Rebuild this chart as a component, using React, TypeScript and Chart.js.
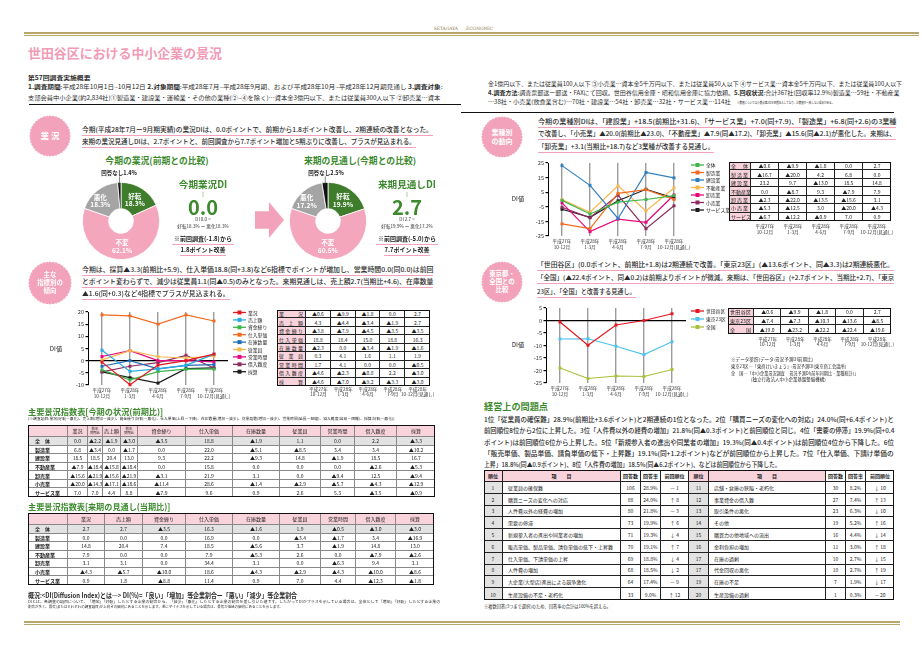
import React, { useEffect, useLayoutEffect, useRef, useState } from 'react';
import { Chart, registerables } from 'chart.js';
Chart.register(...registerables);

const FONT = '"Noto Sans CJK JP", "Noto Sans", sans-serif';
Chart.defaults.font.family = FONT;

// ---------------- data ----------------
const QUARTERS = [['平成27年', '10-12月'], ['平成28年', '1-3月'], ['平成28年', '4-6月'], ['平成28年', '7-9月'], ['平成28年', '10-12月(見通し)']];

const PIE_LABELS = ['好転', '不変', '悪化', '回答なし'];
const PIE_NOW = [18.3, 62.1, 18.3, 1.4];
const PIE_NEXT = [19.9, 60.5, 17.2, 2.5];
const PIE_COLORS = ['#3f7d2c', '#f4a6bc', '#a4a4a4', '#111111'];

const IND_NAMES = ['全体', '製造業', '建設業', '不動産業', '卸売業', '小売業', 'サービス業'];
const IND_COLORS = ['#3db54a', '#f26a21', '#2f7fc0', '#f8b74d', '#e6087f', '#8c2c5c', '#1c1c1c'];
const DI_ZENTAI = [-0.6, -9.9, -1.8, 0.0, 2.7];
const DI_SEIZO = [-16.7, -20.0, 4.2, 6.8, 0.0];
const DI_KENSETSU = [23.2, 9.7, -13.0, 18.5, 14.8];
const DI_FUDOSAN = [0.0, -8.7, 9.3, -7.9, 7.9];
const DI_OROSHI = [-2.3, -22.0, -13.5, -15.6, 3.1];
const DI_KOURI = [-5.3, -12.5, 3.0, -20.0, -4.3];
const DI_SERVICE = [-6.7, -12.2, -0.9, 7.0, 0.9];
const IND_SERIES = [DI_ZENTAI, DI_SEIZO, DI_KENSETSU, DI_FUDOSAN, DI_OROSHI, DI_KOURI, DI_SERVICE];

const IDX_NAMES = ['業況', '売上額', '資金繰り', '仕入単価', '在庫数量', '従業員', '営業時間', '借入難度', '採算'];
const IDX_COLORS = ['#e3171f', '#27abe2', '#3db54a', '#f26a21', '#1f6fb5', '#f8b74d', '#e6087f', '#8c2c5c', '#1c1c1c'];
const IX_GYOKYO = [-0.6, -9.9, -1.8, 0.0, 2.7];
const IX_URIAGE = [4.3, -4.4, -3.4, -1.9, 2.7];
const IX_SHIKIN = [-3.8, -7.9, -4.5, -3.5, -3.5];
const IX_SHIIRE = [18.8, 18.4, 15.0, 18.8, 16.3];
const IX_ZAIKO = [-2.3, 0.0, -3.4, -1.9, -1.6];
const IX_JUGYOIN = [0.3, 4.1, 1.6, 1.1, 1.9];
const IX_EIGYO = [1.7, 4.1, 0.0, 0.0, -0.5];
const IX_KARIIRE = [-4.6, -2.3, -0.8, 2.2, -3.0];
const IX_SAISAN = [-4.6, -7.0, -9.2, -3.3, -3.0];
const IDX_SERIES = [IX_GYOKYO, IX_URIAGE, IX_SHIKIN, IX_SHIIRE, IX_ZAIKO, IX_JUGYOIN, IX_EIGYO, IX_KARIIRE, IX_SAISAN];

const AREA_NAMES = ['世田谷区', '東京23区', '全国'];
const AREA_COLORS = ['#e3171f', '#4ec2ee', '#a9c03b'];
const AR_SETAGAYA = [-0.6, -9.9, -1.8, 0.0, 2.7];
const AR_TOKYO23 = [-7.4, -7.3, -10.3, -13.6, -8.5];
const AR_ZENKOKU = [-19.0, -23.2, -22.2, -22.4, -19.6];
const AREA_SERIES = [AR_SETAGAYA, AR_TOKYO23, AR_ZENKOKU];

const T1_HEAD = ['業況', '前年|同期比', '売上額', '前年|同期比', '資金繰り', '仕入単価', '在庫数量', '従業員', '営業時間', '借入難度', '採算'];
const T1_ZENTAI = [0.0, -2.2, -1.9, -3.0, -3.5, 18.8, -1.9, 1.1, 0.0, 2.2, -3.3];
const T1_SEIZO = [6.8, -3.4, 0.0, -1.7, 0.0, 22.0, -5.1, -8.5, 3.4, 3.4, -10.2];
const T1_KENSETSU = [18.5, 18.5, 20.4, 13.0, 9.3, 22.2, -9.3, 14.8, -1.9, 18.5, 16.7];
const T1_FUDOSAN = [-7.9, -18.4, -15.8, -18.4, 0.0, 15.8, 0.0, 0.0, 0.0, -2.6, -5.3];
const T1_OROSHI = [-15.6, -21.9, -15.6, -21.9, -3.1, 21.9, 3.1, 0.0, -9.4, 12.5, -9.4];
const T1_KOURI = [-20.0, -14.3, -17.1, -18.6, -11.4, 28.6, -1.4, -2.9, -5.7, -4.3, -12.9];
const T1_SERVICE = [7.0, 7.0, 4.4, 8.8, -7.9, 9.6, 0.9, 2.6, 5.3, -3.5, -0.9];
const T1_ROWS = [T1_ZENTAI, T1_SEIZO, T1_KENSETSU, T1_FUDOSAN, T1_OROSHI, T1_KOURI, T1_SERVICE];

const T2_HEAD = ['業況', '売上額', '資金繰り', '仕入単価', '在庫数量', '従業員', '営業時間', '借入難度', '採算'];
const T2_ZENTAI = [2.7, 2.7, -3.5, 16.3, -1.6, 1.9, -0.5, -3.0, -3.0];
const T2_SEIZO = [0.0, 0.0, 0.0, 16.9, 0.0, -3.4, -1.7, 3.4, -16.9];
const T2_KENSETSU = [14.8, 20.4, 7.4, 18.5, -5.6, 3.7, -1.9, 14.8, 13.0];
const T2_FUDOSAN = [7.9, 0.0, 0.0, 7.9, -5.3, 2.6, 0.0, -7.9, -2.6];
const T2_OROSHI = [3.1, 3.1, 0.0, 34.4, 3.1, 0.0, -6.3, 9.4, 3.1];
const T2_KOURI = [-4.3, -5.7, -10.0, 18.6, -4.3, -2.9, -4.3, -10.0, -8.6];
const T2_SERVICE = [0.9, 1.8, -8.8, 11.4, 0.9, 7.0, 4.4, -12.3, -1.8];
const T2_ROWS = [T2_ZENTAI, T2_SEIZO, T2_KENSETSU, T2_FUDOSAN, T2_OROSHI, T2_KOURI, T2_SERVICE];

const PROB_RANK_L = [1, 2, 3, 4, 5, 6, 7, 8, 9, 10];
const PROB_ITEM_L = ['従業員の確保難', '購買ニーズの変化への対応', '人件費以外の経費の増加', '需要の停滞', '新規参入者の進出や同業者の増加', '販売単価、製品単価、請負単価の低下・上昇難', '仕入単価、下請単価の上昇', '人件費の増加', '大企業(大型店)進出による競争激化', '生産設備の不足・老朽化'];
const PROB_N_L = [106, 88, 80, 73, 71, 70, 69, 68, 64, 33];
const PROB_RATE_L = ['28.9%', '24.0%', '21.8%', '19.9%', '19.3%', '19.1%', '18.8%', '18.5%', '17.4%', '9.0%'];
const PROB_PREV_L = ['— 1', '↑ 8', '— 3', '↑ 6', '↓ 4', '↑ 7', '↓ 4', '↓ 2', '— 9', '↑ 12'];
const PROB_RANK_R = [11, 12, 13, 14, 15, 16, 17, 17, 19, 20];
const PROB_ITEM_R = ['店舗・倉庫の狭隘・老朽化', '事業資金の借入難', '取引条件の悪化', 'その他', '購買力の他地域への流出', '金利負担の増加', '在庫の過剰', '代金回収の悪化', '在庫の不足', '生産設備の過剰'];
const PROB_N_R = [30, 27, 23, 19, 16, 11, 10, 10, 7, 1];
const PROB_RATE_R = ['8.2%', '7.4%', '6.3%', '5.2%', '4.4%', '3.0%', '2.7%', '2.7%', '1.9%', '0.3%'];
const PROB_PREV_R = ['↓ 10', '↑ 13', '↓ 10', '↑ 16', '↓ 14', '↑ 18', '↓ 15', '↑ 19', '↓ 17', '— 20'];

// ---------------- helpers ----------------
const fmt = (v: number) => (v < 0 ? '▲' + Math.abs(v).toFixed(1) : v.toFixed(1));
const PINK = '#f3a2bb';
const GREEN = '#3d8a2e';

function Fit({ x, y, w, fs, children, color = '#2a2a2a', weight = 400, ul }: any) {
  const ref = useRef<HTMLSpanElement>(null);
  const [s, setS] = useState(1);
  useLayoutEffect(() => {
    const el = ref.current;
    if (el && el.offsetWidth > 0) setS(w / el.offsetWidth);
  }, [w, fs]);
  const h = fs * 1.3;
  return (
    <>
      <div style={{ position: 'absolute', left: x, top: y - h / 2, width: w, height: h, whiteSpace: 'nowrap', fontSize: fs, lineHeight: h + 'px' }}>
        <span ref={ref} style={{ display: 'inline-block', verticalAlign: 'top', fontSize: fs, lineHeight: h + 'px', color, fontWeight: weight, transform: `scaleX(${s})`, transformOrigin: '0 50%' }}>{children}</span>
      </div>
      {ul ? <div style={{ position: 'absolute', left: x, top: y + fs * 0.8, width: w, height: 0.9, background: ul }} /> : null}
    </>
  );
}

function Txt({ x, y, fs, children, color = '#222', weight = 400, align = 'center', lh = 1.2, family }: any) {
  const tx = align === 'center' ? '-50%' : align === 'right' ? '-100%' : '0';
  return (
    <div style={{ position: 'absolute', left: x, top: y, transform: `translate(${tx},-50%)`, fontSize: fs, color, fontWeight: weight, whiteSpace: 'nowrap', lineHeight: lh, textAlign: align as any, fontFamily: family }}>{children}</div>
  );
}

function Spread({ text }: { text: string }) {
  return (
    <div style={{ display: 'flex', justifyContent: 'space-between', width: '100%' }}>
      {Array.from(text).map((c, i) => <span key={i}>{c}</span>)}
    </div>
  );
}

type CellT = { t: any; bg?: string; al?: 'c' | 'l' | 's'; b?: boolean; fs?: number; pad?: number };
function GridTable({ x, y, cols, rows, cells, fs, line = '#222', frame = '#111', frameW = 1 }: any) {
  const out: any[] = [];
  let yy = 0;
  rows.forEach((h: number, ri: number) => {
    let xx = 0;
    cols.forEach((w: number, ci: number) => {
      const c: CellT = cells[ri][ci];
      const al = c.al || 'c';
      out.push(
        <div key={ri + '-' + ci} style={{
          position: 'absolute', left: xx, top: yy, width: w, height: h, boxSizing: 'border-box',
          borderRight: ci < cols.length - 1 ? `0.7px solid ${line}` : 'none',
          borderBottom: ri < rows.length - 1 ? `0.7px solid ${line}` : 'none',
          background: c.bg || '#fff', display: 'flex', alignItems: 'center',
          justifyContent: al === 'l' ? 'flex-start' : 'center', padding: al === 'c' ? 0 : `0 ${c.pad ?? 2}px`,
          fontSize: c.fs ?? fs, fontWeight: c.b ? 700 : 400, lineHeight: 1.0, whiteSpace: 'nowrap', textAlign: 'center', color: '#222', overflow: 'visible'
        }}>{al === 's' ? <Spread text={c.t} /> : c.t}</div>
      );
      xx += w;
    });
    yy += h;
  });
  const W = cols.reduce((a: number, b: number) => a + b, 0);
  const H = rows.reduce((a: number, b: number) => a + b, 0);
  return (
    <div style={{ position: 'absolute', left: x, top: y, width: W, height: H }}>
      {out}
      <div style={{ position: 'absolute', left: 0, top: 0, width: W, height: H, boxSizing: 'border-box', border: `${frameW}px solid ${frame}`, pointerEvents: 'none' }} />
    </div>
  );
}

function QLabels({ x0, dx, y, fs = 4.6 }: any) {
  return (
    <>
      {QUARTERS.map((q, i) => (
        <div key={i} style={{ position: 'absolute', left: x0 + dx * i, top: y, transform: 'translateX(-50%)', fontSize: fs, lineHeight: fs * 1.25 + 'px', textAlign: 'center', whiteSpace: 'nowrap', color: '#333' }}>{q[0]}<br />{q[1]}</div>
      ))}
    </>
  );
}

function Badge({ cx, cy, r, lines, fs }: any) {
  const bumps = 40;
  const circles = [];
  for (let i = 0; i < bumps; i++) {
    const a = (i / bumps) * Math.PI * 2;
    circles.push(<circle key={i} cx={r + 2 + Math.cos(a) * (r - 1.2)} cy={r + 2 + Math.sin(a) * (r - 1.2)} r={1.8} fill={PINK} />);
  }
  return (
    <div style={{ position: 'absolute', left: cx - r - 2, top: cy - r - 2, width: 2 * r + 4, height: 2 * r + 4 }}>
      <svg width={2 * r + 4} height={2 * r + 4} style={{ position: 'absolute', left: 0, top: 0 }}>
        <circle cx={r + 2} cy={r + 2} r={r - 1.2} fill={PINK} />
        {circles}
      </svg>
      <div style={{ position: 'absolute', inset: 0, display: 'flex', flexDirection: 'column', alignItems: 'center', justifyContent: 'center', color: '#fff', fontWeight: 700, fontSize: fs, lineHeight: 1.3, whiteSpace: 'nowrap' }}>
        {lines.map((l: string, i: number) => <div key={i}>{l}</div>)}
      </div>
    </div>
  );
}

// ---------------- chart plugins ----------------
const lineLegend = (x: number, y: number, dy: number, fs: number) => ({
  id: 'lineLegend',
  afterDraw(chart: any) {
    const ctx = chart.ctx;
    ctx.save();
    chart.data.datasets.forEach((ds: any, i: number) => {
      const yy = y + i * dy;
      ctx.strokeStyle = ds.borderColor;
      ctx.lineWidth = 1.3;
      ctx.beginPath(); ctx.moveTo(x, yy); ctx.lineTo(x + 13, yy); ctx.stroke();
      ctx.fillStyle = ds.borderColor;
      ctx.fillRect(x + 4.5, yy - 2, 4, 4);
      ctx.fillStyle = '#222';
      ctx.font = `${fs}px ${FONT}`;
      ctx.textBaseline = 'middle';
      ctx.textAlign = 'left';
      ctx.fillText(ds.label, x + 15, yy + 0.3);
    });
    ctx.restore();
  }
});

const pieLabels = {
  id: 'pieLabels',
  afterDatasetsDraw(chart: any) {
    const ctx = chart.ctx;
    const meta = chart.getDatasetMeta(0);
    const ds = chart.data.datasets[0];
    const labels = chart.data.labels as string[];
    ctx.save();
    meta.data.forEach((arc: any, i: number) => {
      const v = ds.data[i];
      if (i === labels.length - 1) {
        const p = arc.getProps(['x', 'y', 'startAngle', 'endAngle', 'outerRadius'], true);
        const mid = (p.startAngle + p.endAngle) / 2;
        const px = p.x + Math.cos(mid) * p.outerRadius * 0.9;
        const py = p.y + Math.sin(mid) * p.outerRadius * 0.9;
        const ly = p.y - p.outerRadius - 9;
        ctx.strokeStyle = '#333'; ctx.lineWidth = 0.6;
        ctx.beginPath(); ctx.moveTo(px, py); ctx.lineTo(px, ly + 3); ctx.stroke();
        ctx.fillStyle = '#222';
        ctx.font = `bold 5.5px ${FONT}`;
        ctx.textAlign = 'center'; ctx.textBaseline = 'middle';
        ctx.fillText(labels[i] + v.toFixed(1) + '%', p.x - 2, ly);
      } else {
        const pos = arc.tooltipPosition();
        let dx = 0;
        if (i === 2) dx = -5;
        ctx.fillStyle = '#fff';
        ctx.font = `bold 6.6px ${FONT}`;
        ctx.textAlign = 'center'; ctx.textBaseline = 'middle';
        ctx.fillText(labels[i], pos.x + dx, pos.y - 3.6);
        ctx.fillText(v.toFixed(1) + '%', pos.x + dx, pos.y + 3.8);
      }
    });
    ctx.restore();
  }
};

// ---------------- chart components ----------------
function LineChart({ left, top, width, height, plot, names, colors, series, yMin, yMax, legend }: any) {
  const ref = useRef<HTMLCanvasElement>(null);
  useEffect(() => {
    const chart = new Chart(ref.current as HTMLCanvasElement, {
      type: 'line',
      data: {
        labels: QUARTERS as any,
        datasets: series.map((s: number[], i: number) => ({
          label: names[i], data: s, borderColor: colors[i], backgroundColor: colors[i],
          pointStyle: 'rect', pointRadius: 2.1, pointBorderWidth: 0, borderWidth: 1.2, tension: 0, clip: false as any
        }))
      },
      options: {
        animation: false, responsive: false, events: [],
        layout: { padding: { left: 0, top: plot.t, right: width - plot.r, bottom: 0 }, autoPadding: false } as any,
        plugins: { legend: { display: false }, tooltip: { enabled: false } },
        scales: {
          x: {
            type: 'category', offset: true,
            grid: { offset: false, color: '#9c9c9c', lineWidth: 1.4, drawTicks: false } as any,
            border: { display: false },
            ticks: { font: { size: 4.6 }, color: '#333', padding: 2.5, maxRotation: 0, autoSkip: false },
            afterFit: (s: any) => { s.height = height - plot.b; }
          },
          y: {
            min: yMin, max: yMax,
            ticks: { stepSize: 5, font: { size: 5.6 }, color: '#333', padding: 1.5 },
            grid: { color: (c: any) => (c.tick && c.tick.value === 0 ? '#000' : 'rgba(0,0,0,0)'), lineWidth: 1.2, tickColor: '#000', tickLength: 2.5 } as any,
            border: { color: '#000', width: 1 },
            afterFit: (s: any) => { s.width = plot.l; }
          }
        }
      },
      plugins: [lineLegend(legend.x, legend.y, legend.dy, 4.8)]
    });
    return () => chart.destroy();
  }, []);
  return <canvas ref={ref} width={width} height={height} style={{ position: 'absolute', left, top, width, height }} />;
}

function PieChart({ left, top, values }: any) {
  const ref = useRef<HTMLCanvasElement>(null);
  useEffect(() => {
    const chart = new Chart(ref.current as HTMLCanvasElement, {
      type: 'doughnut',
      data: {
        labels: PIE_LABELS,
        datasets: [{ data: values, backgroundColor: PIE_COLORS, borderColor: '#fff', borderWidth: 0.8, hoverOffset: 0, offset: 0 } as any]
      },
      options: {
        animation: false, responsive: false, events: [], cutout: '32%',
        layout: { padding: { top: 17, bottom: 5, left: 12, right: 12 } },
        plugins: { legend: { display: false }, tooltip: { enabled: false } }
      } as any,
      plugins: [pieLabels]
    });
    return () => chart.destroy();
  }, []);
  return <canvas ref={ref} width={102} height={100} style={{ position: 'absolute', left, top, width: 102, height: 100 }} />;
}

// ---------------- page ----------------
function DIBlock({ cx, title, big, eq, detail, prev, gain }: any) {
  const line = (fs: number, lh: number, color: string, weight: number, txt: string) => (
    <span style={{ fontSize: fs, lineHeight: lh + 'px', color, fontWeight: weight }}>{txt}</span>
  );
  return (
    <>
      <div style={{ position: 'absolute', left: cx - 50, top: 178.5, width: 100, textAlign: 'center', fontSize: 0, lineHeight: 0, whiteSpace: 'nowrap' }}>
        {line(9.6, 11, GREEN, 700, title)}<br />
        {line(5, 8.5, GREEN, 700, '‖')}<br />
        {line(20, 18, GREEN, 700, big)}<br />
        {line(4.6, 7, '#333', 400, eq)}<br />
        {line(4.6, 6, '#333', 400, detail)}
      </div>
      <Txt x={cx} y={239} fs={6} color="#222" weight={700} lh={1}>{prev}</Txt>
      <div style={{ position: 'absolute', left: cx - 31, top: 244, width: 62, height: 0.9, background: PINK }} />
      <Txt x={cx} y={250} fs={6} color="#222" weight={700} lh={1}>{gain}</Txt>
      <div style={{ position: 'absolute', left: cx - 23, top: 254.5, width: 46, height: 0.9, background: PINK }} />
    </>
  );
}

function GoldLine({ x, y, w }: any) {
  return <div style={{ position: 'absolute', left: x, top: y, width: w, height: 4, boxSizing: 'border-box', borderTop: '2px solid #b9a66b', borderBottom: '1px solid #b9a66b' }} />;
}

export default function App() {
  const PK = '#f8d3dc';
  const GR = '#e2e2e2';

  const tA = IND_NAMES.map((n, r) => [{ t: n, bg: PK, al: 's' as const, pad: 2 }, ...IND_SERIES[r].map((v) => ({ t: fmt(v) }))]);
  const tB = IDX_NAMES.map((n, r) => [{ t: n, bg: PK, al: 's' as const, pad: 2 }, ...IDX_SERIES[r].map((v) => ({ t: fmt(v) }))]);
  const tC = AREA_NAMES.map((n, r) => [{ t: n, bg: PK, al: 's' as const, pad: 2 }, ...AREA_SERIES[r].map((v) => ({ t: fmt(v) }))]);

  const headCell = (h: string) => {
    if (h.includes('|')) {
      const [a, b] = h.split('|');
      return { t: <span style={{ fontSize: 3.4, lineHeight: 1.05 }}>{a}<br />{b}</span>, bg: PK };
    }
    return { t: h, bg: PK };
  };
  const t1 = [
    [{ t: '', bg: PK }, ...T1_HEAD.map(headCell)],
    ...IND_NAMES.map((n, r) => [{ t: n === '全体' ? '全　体' : n, al: 'l' as const, pad: 7, bg: r === 0 ? GR : '#fff', b: true }, ...T1_ROWS[r].map((v) => ({ t: fmt(v), bg: r === 0 ? GR : '#fff' }))])
  ];
  const t2 = [
    [{ t: '', bg: PK }, ...T2_HEAD.map(headCell)],
    ...IND_NAMES.map((n, r) => [{ t: n === '全体' ? '全　体' : n, al: 'l' as const, pad: 7, bg: r === 0 ? GR : '#fff', b: true }, ...T2_ROWS[r].map((v) => ({ t: fmt(v), bg: r === 0 ? GR : '#fff' }))])
  ];
  const tP = [
    [{ t: '順位', bg: PK, b: true }, { t: '項　　目', bg: PK, b: true }, { t: '回答数', b: true }, { t: '回答率', b: true }, { t: '前回順位', b: true },
     { t: '順位', bg: PK, b: true }, { t: '項　　目', bg: PK, b: true }, { t: '回答数', b: true }, { t: '回答率', b: true }, { t: '前回順位', b: true }],
    ...PROB_RANK_L.map((rk, i) => [
      { t: String(rk), bg: GR }, { t: PROB_ITEM_L[i], al: 'l' as const, pad: 5 }, { t: String(PROB_N_L[i]) }, { t: PROB_RATE_L[i] }, { t: PROB_PREV_L[i] },
      { t: String(PROB_RANK_R[i]), bg: GR }, { t: PROB_ITEM_R[i], al: 'l' as const, pad: 5 }, { t: String(PROB_N_R[i]) }, { t: PROB_RATE_R[i] }, { t: PROB_PREV_R[i] }
    ])
  ];

  return (
    <div style={{ position: 'absolute', left: 0, top: 0, width: 922, height: 655, overflow: 'hidden', background: '#fff', fontFamily: FONT, color: '#222' }}>
      {/* header */}
      <Txt x={458} y={28.5} fs={4.4} color="#8d7b45" align="right" family="'DejaVu Serif', serif">SETAGAYA</Txt>
      <Txt x={466} y={28.5} fs={4.4} color="#8d7b45" align="left" family="'DejaVu Serif', serif">ECONOMIC</Txt>
      <GoldLine x={24} y={32} w={895} />
      <Fit x={28} y={53} w={194} fs={13} color="#f29bb6" weight={700}>世田谷区における中小企業の景況</Fit>
      <Fit x={28} y={79} w={62} fs={5.6} weight={700}>第57回調査実施概要</Fit>
      <Fit x={28} y={88} w={414} fs={5.6}><b>1.調査期間</b>:平成28年10月1日~10月12日 <b>2.対象期間</b>:平成28年7月~平成28年9月期、および平成28年10月~平成28年12月期見通し <b>3.調査対象</b>:</Fit>
      <Fit x={28} y={99} w={412} fs={5.6}>支部会員中小企業(約2,834社)①製造業・建設業・運輸業・その他の業種(②~④を除く)…資本金3億円以下、または従業員300人以下 ②卸売業…資本</Fit>
      <div style={{ position: 'absolute', left: 29, top: 103.5, width: 432, height: 1.3, background: '#111' }} />
      <Fit x={488} y={85} w={414} fs={5.6}>金1億円以下、または従業員100人以下 ③小売業…資本金5千万円以下、または従業員50人以下 ④サービス業…資本金5千万円以下、または従業員100人以下</Fit>
      <Fit x={488} y={94} w={412} fs={5.6}><b>4.調査方法</b>:調査票郵送ー郵送・FAXにて回収。世田谷信用金庫・昭和信用金庫に協力依頼。<b>5.回収状況</b>:合計367社(回収率12.9%)製造業…59社・不動産業</Fit>
      <Fit x={488} y={103} w={243} fs={5.6}>…38社・小売業(飲食業含む)…70社・建設業…54社・卸売業…32社・サービス業…114社</Fit>
      <Fit x={737} y={103} w={97} fs={3.4}>※数値については小数点第2位を四捨五入しており、計数値が一致しない場合がある。</Fit>
      <div style={{ position: 'absolute', left: 461, top: 111.5, width: 433, height: 1.3, background: '#111' }} />

      {/* 業況 section */}
      <Badge cx={50} cy={136} r={20} lines={['業 況']} fs={8.5} />
      <Fit x={82} y={130} w={351} fs={6.3} weight={500} ul={PINK}>今期(平成28年7月ー9月期実績)の業況DIは、0.0ポイントで、前期から1.8ポイント改善し、2期連続の改善となった。</Fit>
      <Fit x={82} y={142} w={334} fs={6.3} weight={500} ul={PINK}>来期の業況見通しDIは、2.7ポイントと、前回調査から7.7ポイント増加と5期ぶりに改善し、プラスが見込まれる。</Fit>
      <Txt x={157} y={160.5} fs={8.8} color={GREEN} weight={700} lh={1}>今期の業況(前期との比較)</Txt>
      <Txt x={360} y={160.5} fs={8.8} color={GREEN} weight={700} lh={1}>来期の見通し(今期との比較)</Txt>
      <PieChart left={70} top={165} values={PIE_NOW} />
      <PieChart left={277} top={165} values={PIE_NEXT} />
      <DIBlock cx={203} title="今期業況DI" big="0.0" eq="DI 0.0 =" detail="好転18.3% ー 悪化18.3%" prev="※前回調査(-1.8)から" gain="1.8ポイント改善" />
      <DIBlock cx={407} title="来期見通しDI" big="2.7" eq="DI 2.7 =" detail="好転19.9% ー 悪化17.2%" prev="※前回調査(-5.0)から" gain="7.7ポイント改善" />
      <div style={{ position: 'absolute', left: 255, top: 202, width: 29, height: 36, background: PINK, clipPath: 'polygon(0 26%, 48% 26%, 48% 0, 100% 50%, 48% 100%, 48% 74%, 0 74%)' }} />

      {/* 主な指標別 section */}
      <Badge cx={50} cy={283} r={21} lines={['主な', '指標別の', '傾向']} fs={6.4} />
      <Fit x={82} y={270} w={351} fs={6.3} weight={500} ul={PINK}>今期は、採算▲3.3(前期比+5.9)、仕入単価18.8(同+3.8)など6指標でポイントが増加し、営業時間0.0(同0.0)は前回</Fit>
      <Fit x={82} y={282} w={351} fs={6.3} weight={500} ul={PINK}>とポイント変わらずで、減少は従業員1.1(同▲0.5)のみとなった。来期見通しは、売上額2.7(当期比+4.6)、在庫数量</Fit>
      <Fit x={82} y={294.3} w={148} fs={6.3} weight={500} ul={PINK}>▲1.6(同+0.3)など4指標でプラスが見込まれる。</Fit>
      <Txt x={56} y={349} fs={6.2} color="#222">DI値</Txt>
      <LineChart left={70} top={305} width={200} height={100} plot={{ l: 18, t: 7, r: 158, b: 80 }} names={IDX_NAMES} colors={IDX_COLORS} series={IDX_SERIES} yMin={-10} yMax={20} legend={{ x: 163, y: 7.5, dy: 7.4 }} />
      <GridTable x={277} y={310} cols={[29, 24.8, 24.8, 24.8, 24.8, 24.8]} rows={Array(9).fill(8.45)} cells={tB} fs={5} />
      <QLabels x0={318.4} dx={24.8} y={386.5} />

      <Fit x={28} y={411.7} w={135} fs={8.2} color={GREEN} weight={700}>主要景況指数表[今期の状況(前期比)]</Fit>
      <Fit x={28} y={419.3} w={367} fs={3.4}>(※調査項目:業況(好転ー悪化)、売上額(増加ー減少)、資金繰り(好転ー悪化)、仕入単価(上昇ー下降)、在庫数量(増加ー減少)、従業員数(増加ー減少)、営業時間(延長ー短縮)、借入難度(容易ー困難)、採算(好転ー悪化))</Fit>
      <GridTable x={28} y={425} cols={[40, 20, 15, 18, 17, 48, 47, 47, 41, 34, 42, 38]} rows={[12, ...Array(7).fill(8.57)]} cells={t1} fs={5} line="#888" />
      <Fit x={28} y={506} w={142} fs={8.2} color={GREEN} weight={700}>主要景況指数表[来期の見通し(当期比)]</Fit>
      <GridTable x={28} y={513} cols={[40, 37, 38, 43, 47, 47, 41, 35, 40, 38]} rows={[12, ...Array(7).fill(8.5)]} cells={t2} fs={5} line="#888" />
      <Fit x={28} y={595.7} w={269} fs={7} weight={700}>概況:&lt;DI(Diffusion Index)とは…&gt; DI(%)=「良い」「増加」等企業割合ー「悪い」「減少」等企業割合</Fit>
      <Fit x={28} y={602.6} w={412} fs={3.8}>DIとは、各調査の項目について、「増加」「好転」したとする企業の割合から、「減少」「悪化」したとする企業の割合を差し引いた値です。したがってDIがプラスを示している場合は、全体として「増加」「好転」したとする企業の</Fit>
      <Fit x={28} y={607.4} w={255} fs={3.8}>割合が多く、景気(またはそれぞれの調査項目)が上向きの傾向にあることを示します。逆にマイナスを示している場合は、景気が低迷の傾向にあることを示します。</Fit>
      <GoldLine x={24} y={620.5} w={876} />

      {/* 業種別の動向 section */}
      <Badge cx={502} cy={137} r={20} lines={['業種別', 'の動向']} fs={7} />
      <Fit x={538} y={121.7} w={358} fs={6.3} weight={500} ul={PINK}>今期の業種別DIは、「建設業」+18.5(前期比+31.6)、「サービス業」+7.0(同+7.9)、「製造業」+6.8(同+2.6)の3業種</Fit>
      <Fit x={538} y={134} w={358} fs={6.3} weight={500} ul={PINK}>で改善し、「小売業」▲20.0(前期比▲23.0)、「不動産業」▲7.9(同▲17.2)、「卸売業」▲15.6(同▲2.1)が悪化した。来期は、</Fit>
      <Fit x={538} y={146.7} w={176} fs={6.3} weight={500} ul={PINK}>「卸売業」+3.1(当期比+18.7)など3業種が改善する見通し。</Fit>
      <Txt x={518} y={199} fs={6.2} color="#222">DI値</Txt>
      <LineChart left={530} top={158} width={200} height={95} plot={{ l: 18, t: 5, r: 158, b: 78 }} names={IND_NAMES} colors={IND_COLORS} series={IND_SERIES} yMin={-25} yMax={25} legend={{ x: 161, y: 7, dy: 7.5 }} />
      <GridTable x={729} y={162} cols={[22, 28, 28, 28, 28, 28]} rows={Array(7).fill(8.45)} cells={tA} fs={5} />
      <QLabels x0={765} dx={28} y={224} />

      {/* 東京都・全国 section */}
      <Badge cx={502} cy={282} r={20} lines={['東京都・', '全国との', '比較']} fs={6.4} />
      <Fit x={537} y={265} w={357} fs={6.3} weight={500} ul={PINK}>「世田谷区」(0.0ポイント、前期比+1.8)は2期連続で改善。「東京23区」(▲13.6ポイント、同▲3.3)は2期連続悪化。</Fit>
      <Fit x={537} y={278.3} w={357} fs={6.3} weight={500} ul={PINK}>「全国」(▲22.4ポイント、同▲0.2)は前期よりポイントが微減。来期は、「世田谷区」(+2.7ポイント、当期比+2.7)、「東京</Fit>
      <Fit x={537} y={291.7} w={99} fs={6.3} weight={500} ul={PINK}>23区」、「全国」と改善する見通し。</Fit>
      <Txt x={518} y={345} fs={6.2} color="#222">DI値</Txt>
      <LineChart left={530} top={300} width={200} height={100} plot={{ l: 16, t: 8, r: 156, b: 83 }} names={AREA_NAMES} colors={AREA_COLORS} series={AREA_SERIES} yMin={-25} yMax={5} legend={{ x: 161, y: 11, dy: 8 }} />
      <GridTable x={728} y={308} cols={[26, 27.4, 27.4, 27.4, 27.4, 27.4]} rows={[8.7, 8.7, 8.7]} cells={tC} fs={5} />
      <QLabels x0={767.7} dx={27.4} y={336.5} />
      <Fit x={731} y={360} w={82} fs={4.2}>※データ参照(データ:景況予測DI前期比)</Fit>
      <Fit x={731} y={366.7} w={115} fs={4.2}>東京23区―「東商けいきょう」:景況予測DI(東京商工会議所)</Fit>
      <Fit x={731} y={373.3} w={127} fs={4.2}>全　国―「中小企業景況調査　景況予測DI(前年同期比・業種総計)」</Fit>
      <Fit x={751} y={380} w={75} fs={4.2}>(独立行政法人中小企業基盤整備機構)</Fit>

      {/* 経営上の問題点 */}
      <Fit x={484} y={407} w={64} fs={9} color={GREEN} weight={700}>経営上の問題点</Fit>
      <Fit x={484} y={420} w={410} fs={6.3} weight={500}>1位「従業員の確保難」28.9%(前期比+3.6ポイント)と2期連続の1位となった。2位「購買ニーズの変化への対応」24.0%(同+6.4ポイント)と</Fit>
      <Fit x={484} y={431.5} w={410} fs={6.3} weight={500}>前回順位8位から2位に上昇した。3位「人件費以外の経費の増加」21.8%(同▲0.3ポイント)と前回順位と同じ。4位「需要の停滞」19.9%(同+0.4</Fit>
      <Fit x={484} y={442.7} w={410} fs={6.3} weight={500}>ポイント)は前回順位6位から上昇した。5位「新規参入者の進出や同業者の増加」19.3%(同▲0.4ポイント)は前回順位4位から下降した。6位</Fit>
      <Fit x={484} y={454} w={410} fs={6.3} weight={500}>「販売単価、製品単価、請負単価の低下・上昇難」19.1%(同+1.2ポイント)などが前回順位から上昇した。7位「仕入単価、下請け単価の</Fit>
      <Fit x={484} y={465} w={297} fs={6.3} weight={500}>上昇」18.8%(同▲0.9ポイント)、8位「人件費の増加」18.5%(同▲6.2ポイント)、などは前回順位から下降した。</Fit>
      <GridTable x={484} y={470} cols={[19, 118, 20, 20, 28, 20, 117, 20, 20, 28]} rows={[12, ...Array(10).fill(11.8)]} cells={tP} fs={5} line="#222" />
      <Fit x={484} y={607} w={127} fs={4.2}>※複数回答(3つまで選択)のため、回答率の合計は100%を超える。</Fit>
    </div>
  );
}
